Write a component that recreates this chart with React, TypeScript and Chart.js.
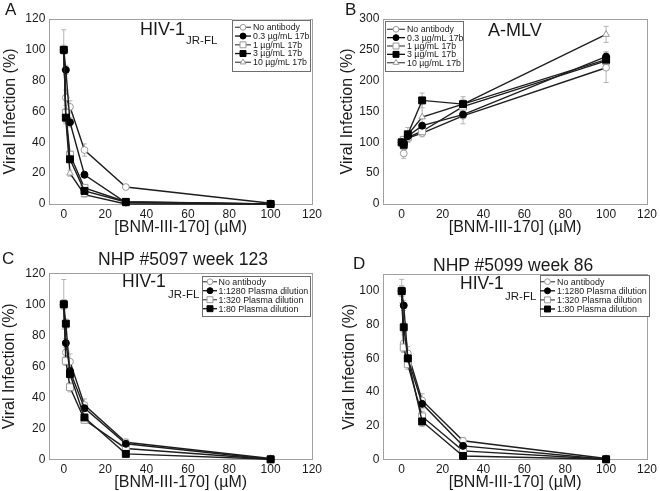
import React, { useEffect, useRef } from 'react';
import { Chart, registerables } from 'chart.js';

Chart.register(...registerables);

const FONT = "'Liberation Sans', Arial, Helvetica, sans-serif";
const TEXT = '#1a1a1a';
const LINE = '#1e1e1e';

// ---------- data ----------
const concentrations = [0, 1, 3, 10, 30, 100];
const xTickValues = [0, 20, 40, 60, 80, 100, 120];
const yTicksA = [0, 20, 40, 60, 80, 100, 120];
const yTicksB = [0, 50, 100, 150, 200, 250, 300];
const yTicksC = [0, 20, 40, 60, 80, 100, 120];
const yTicksD = [0, 20, 40, 60, 80, 100];

const labels17b = ['No antibody', '0.3 µg/mL 17b', '1 µg/mL 17b', '3 µg/mL 17b', '10 µg/mL 17b'];
const labelsPlasma = ['No antibody', '1:1280 Plasma dilution', '1:320 Plasma dilution', '1:80 Plasma dilution'];

// Panel A: HIV-1 JR-FL + 17b
const aNoAntibody = [100, 69, 63, 35, 11, 0.5];
const a03 = [100, 87, 53, 19, 1, 0];
const a1 = [100, 59, 32, 10.5, 1.5, 0];
const a3 = [100, 56, 29, 8.5, 1.3, 0];
const a10 = [100, 55, 20, 6, 0, 0];
const aNoAntibodyErr = [13, 5, 4, 4, 1.5, 0.5];
const a03Err = [3, 3, 3, 2, 0.5, 0];
const a1Err = [2, 3, 2, 1.5, 0.5, 0];
const a3Err = [2, 3, 2, 1.5, 0.5, 0];
const a10Err = [2, 3, 2, 1.5, 0.5, 0];

// Panel B: A-MLV + 17b
const bNoAntibody = [100, 82, 107, 115, 143, 221];
const b03 = [100, 97, 110, 127, 145, 239];
const b1 = [100, 104, 108, 118, 158, 232];
const b3 = [100, 96, 113, 168, 162, 234];
const b10 = [100, 92, 112, 141, 162, 275];
const bNoAntibodyErr = [6, 8, 6, 6, 13, 24];
const b03Err = [5, 5, 5, 5, 5, 8];
const b1Err = [5, 5, 5, 5, 5, 8];
const b3Err = [5, 5, 5, 12, 12, 6];
const b10Err = [5, 8, 12, 25, 8, 13];

// Panel C: NHP #5097 week 123
const cNoAntibody = [100, 69, 63, 35, 11, 0.5];
const c1280 = [100, 75, 57, 33, 10, 0];
const c320 = [100, 63.5, 46.5, 25.5, 7, 0];
const c80 = [100, 87.5, 55, 27, 3.5, 0];
const cNoAntibodyErr = [16, 6, 5, 4, 2, 0.5];
const c1280Err = [3, 3, 3, 2, 1, 0];
const c320Err = [3, 3, 3, 2, 1, 0];
const c80Err = [3, 3, 3, 2, 1, 0];

// Panel D: NHP #5099 week 86
const dNoAntibody = [100, 69, 63, 35, 11, 0.5];
const d1280 = [100, 91.5, 60, 33, 8, 0];
const d320 = [100, 66.5, 56.5, 25.5, 5, 0];
const d80 = [100, 78.5, 60, 22.5, 2, 0];
const dNoAntibodyErr = [7, 5, 4, 4, 2, 0.5];
const d1280Err = [3, 3, 3, 3, 1, 0];
const d320Err = [3, 3, 3, 3, 1, 0];
const d80Err = [3, 3, 3, 3, 1, 0];

// ---------- styles ----------
type Marker = { style: string; fill: string; stroke: string; r: number; lr: number };
const MARKERS: Marker[] = [
  { style: 'circle', fill: '#ffffff', stroke: '#9a9a9a', r: 3.4, lr: 2.9 },
  { style: 'circle', fill: '#000000', stroke: '#000000', r: 3.5, lr: 3.0 },
  { style: 'rect', fill: '#ffffff', stroke: '#9a9a9a', r: 4.9, lr: 4.2 },
  { style: 'rect', fill: '#000000', stroke: '#000000', r: 4.9, lr: 4.2 },
  { style: 'triangle', fill: '#ffffff', stroke: '#9a9a9a', r: 3.8, lr: 3.3 },
];
const ORDERS = [4, 1, 3, 0, 2];

type LegendSpec = {
  x: number; y: number; w: number; h: number;
  rowStart: number; rowStep: number; lineX0: number; lineX1: number; textX: number; fontSize: number;
};

type PanelSpec = {
  left: number; top: number; width: number; height: number;
  xMin: number; yMax: number; yTicks: number[];
  yAxisWidth: number; xAxisHeight: number; padTop: number; padRight: number;
  yTitlePad: number; xTitlePad: number;
  labels: string[]; series: number[][]; errors: number[][];
  legend: LegendSpec;
};

const PANELS: PanelSpec[] = [
  {
    left: 0, top: 0, width: 330, height: 245,
    xMin: -7, yMax: 120, yTicks: yTicksA,
    yAxisWidth: 49.3, xAxisHeight: 41, padTop: 19, padRight: 18,
    yTitlePad: 3, xTitlePad: 9,
    labels: labels17b,
    series: [aNoAntibody, a03, a1, a3, a10],
    errors: [aNoAntibodyErr, a03Err, a1Err, a3Err, a10Err],
    legend: { x: 232, y: 19.5, w: 78, h: 50.5, rowStart: 27.3, rowStep: 8.75, lineX0: 235, lineX1: 251, textX: 253, fontSize: 8.8 },
  },
  {
    left: 330, top: 0, width: 330, height: 245,
    xMin: -9, yMax: 300, yTicks: yTicksB,
    yAxisWidth: 53.3, xAxisHeight: 41, padTop: 19, padRight: 10,
    yTitlePad: 10, xTitlePad: 9,
    labels: labels17b,
    series: [bNoAntibody, b03, b1, b3, b10],
    errors: [bNoAntibodyErr, b03Err, b1Err, b3Err, b10Err],
    legend: { x: 55, y: 21, w: 78, h: 50, rowStart: 29.3, rowStep: 8.35, lineX0: 57, lineX1: 75, textX: 77, fontSize: 8.8 },
  },
  {
    left: 0, top: 245, width: 330, height: 246,
    xMin: -7, yMax: 120, yTicks: yTicksC,
    yAxisWidth: 49.3, xAxisHeight: 31.7, padTop: 28.3, padRight: 18,
    yTitlePad: 2, xTitlePad: 0.7,
    labels: labelsPlasma,
    series: [cNoAntibody, c1280, c320, c80],
    errors: [cNoAntibodyErr, c1280Err, c320Err, c80Err],
    legend: { x: 202, y: 31, w: 108, h: 40, rowStart: 36.7, rowStep: 9, lineX0: 203, lineX1: 217, textX: 218.5, fontSize: 8.9 },
  },
  {
    left: 330, top: 245, width: 330, height: 246,
    xMin: -9, yMax: 110, yTicks: yTicksD,
    yAxisWidth: 53.3, xAxisHeight: 31.7, padTop: 29.3, padRight: 9.3,
    yTitlePad: 11.3, xTitlePad: 0.7,
    labels: labelsPlasma,
    series: [dNoAntibody, d1280, d320, d80],
    errors: [dNoAntibodyErr, d1280Err, d320Err, d80Err],
    legend: { x: 209.5, y: 30, w: 108.5, h: 41, rowStart: 36.7, rowStep: 9.1, lineX0: 210, lineX1: 225, textX: 227, fontSize: 8.9 },
  },
];

type TextItem = { text: string; left: number; top: number; size: number };
const TEXTS: TextItem[] = [
  { text: 'A', left: 5, top: 0.6, size: 17 },
  { text: 'B', left: 345, top: 0.6, size: 17 },
  { text: 'C', left: 2, top: 249.5, size: 17 },
  { text: 'D', left: 353, top: 254.5, size: 17 },
  { text: 'HIV-1', left: 140, top: 19.7, size: 18 },
  { text: 'JR-FL', left: 186, top: 35.2, size: 11.5 },
  { text: 'A-MLV', left: 488, top: 20.7, size: 18 },
  { text: 'NHP #5097 week 123', left: 98, top: 251.4, size: 17.5 },
  { text: 'HIV-1', left: 122, top: 273.4, size: 17.5 },
  { text: 'JR-FL', left: 168, top: 289.2, size: 11.5 },
  { text: 'NHP #5099 week 86', left: 433, top: 256.8, size: 17.5 },
  { text: 'HIV-1', left: 460, top: 275, size: 17.5 },
  { text: 'JR-FL', left: 505, top: 291.2, size: 11.5 },
];

// ---------- drawing helpers ----------
function drawMarker(ctx: CanvasRenderingContext2D, m: Marker, x: number, y: number, r: number) {
  ctx.beginPath();
  if (m.style === 'circle') {
    ctx.arc(x, y, r, 0, Math.PI * 2);
  } else if (m.style === 'rect') {
    const s = r * Math.SQRT1_2;
    ctx.rect(x - s, y - s, 2 * s, 2 * s);
  } else {
    for (let k = 0; k < 3; k++) {
      const a = -Math.PI / 2 + (k * 2 * Math.PI) / 3;
      const px = x + Math.cos(a) * r;
      const py = y + Math.sin(a) * r;
      if (k === 0) ctx.moveTo(px, py);
      else ctx.lineTo(px, py);
    }
    ctx.closePath();
  }
  ctx.fillStyle = m.fill;
  ctx.fill();
  ctx.strokeStyle = m.stroke;
  ctx.lineWidth = 1;
  ctx.stroke();
}

function errorBarsPlugin(p: PanelSpec) {
  return {
    id: 'errorBars',
    beforeDatasetsDraw(chart: any) {
      const { ctx, scales } = chart;
      const xs = scales.x;
      const ys = scales.y;
      ctx.save();
      ctx.strokeStyle = '#b4b4b4';
      ctx.lineWidth = 1;
      p.errors.forEach((errs, i) => {
        errs.forEach((e, j) => {
          if (!e) return;
          const v = p.series[i][j];
          const px = xs.getPixelForValue(concentrations[j]);
          const yTop = ys.getPixelForValue(v + e);
          const yBot = ys.getPixelForValue(Math.max(0, v - e));
          ctx.beginPath();
          ctx.moveTo(px, yTop);
          ctx.lineTo(px, yBot);
          ctx.moveTo(px - 2.5, yTop);
          ctx.lineTo(px + 2.5, yTop);
          ctx.moveTo(px - 2.5, yBot);
          ctx.lineTo(px + 2.5, yBot);
          ctx.stroke();
        });
      });
      ctx.restore();
    },
  };
}

const framePlugin = {
  id: 'frame',
  beforeDatasetsDraw(chart: any) {
    const { ctx, chartArea } = chart;
    ctx.save();
    ctx.strokeStyle = '#a0a0a0';
    ctx.lineWidth = 1;
    ctx.strokeRect(
      Math.round(chartArea.left) + 0.5,
      Math.round(chartArea.top) + 0.5,
      Math.round(chartArea.right - chartArea.left),
      Math.round(chartArea.bottom - chartArea.top)
    );
    ctx.restore();
  },
};

function legendPlugin(p: PanelSpec) {
  const L = p.legend;
  return {
    id: 'boxLegend',
    afterDatasetsDraw(chart: any) {
      const { ctx } = chart;
      ctx.save();
      ctx.fillStyle = '#ffffff';
      ctx.fillRect(L.x, L.y, L.w, L.h);
      ctx.strokeStyle = '#6e6e6e';
      ctx.lineWidth = 1;
      ctx.strokeRect(Math.round(L.x) + 0.5, Math.round(L.y) + 0.5, Math.round(L.w), Math.round(L.h));
      p.labels.forEach((label, i) => {
        const y = L.rowStart + i * L.rowStep;
        ctx.strokeStyle = i === 0 || i === 2 || i === 4 ? '#555555' : '#111111';
        ctx.lineWidth = 1.3;
        ctx.beginPath();
        ctx.moveTo(L.lineX0, y);
        ctx.lineTo(L.lineX1, y);
        ctx.stroke();
        drawMarker(ctx, MARKERS[i], (L.lineX0 + L.lineX1) / 2, y, MARKERS[i].lr);
        ctx.fillStyle = TEXT;
        ctx.font = `${L.fontSize}px ${FONT}`;
        ctx.textBaseline = 'middle';
        ctx.textAlign = 'left';
        ctx.fillText(label, L.textX, y + 0.5);
      });
      ctx.restore();
    },
  };
}

function buildConfig(p: PanelSpec): any {
  const datasets = p.series.map((vals, i) => ({
    label: p.labels[i],
    data: concentrations.map((x, j) => ({ x, y: vals[j] })),
    borderColor: LINE,
    borderWidth: 1.4,
    tension: 0,
    fill: false,
    pointStyle: MARKERS[i].style,
    pointRadius: MARKERS[i].r,
    pointBackgroundColor: MARKERS[i].fill,
    pointBorderColor: MARKERS[i].stroke,
    pointBorderWidth: 1,
    clip: false,
    order: ORDERS[i],
  }));
  return {
    type: 'line',
    data: { datasets },
    options: {
      responsive: false,
      maintainAspectRatio: false,
      animation: false,
      devicePixelRatio: 1,
      events: [],
      layout: { padding: { left: 0, top: p.padTop, right: p.padRight, bottom: 0 } },
      plugins: { legend: { display: false }, tooltip: { enabled: false }, title: { display: false } },
      scales: {
        x: {
          type: 'linear',
          position: 'bottom',
          min: p.xMin,
          max: 120,
          grid: { display: false, drawTicks: false },
          border: { display: false },
          ticks: { font: { family: FONT, size: 12 }, color: TEXT, padding: 3, maxRotation: 0, autoSkip: false },
          afterBuildTicks: (s: any) => {
            s.ticks = xTickValues.map((v) => ({ value: v }));
          },
          afterFit: (s: any) => {
            s.height = p.xAxisHeight;
          },
          title: {
            display: true,
            text: '[BNM-III-170] (µM)',
            color: TEXT,
            font: { family: FONT, size: 16, lineHeight: 1 },
            padding: { top: 0, bottom: p.xTitlePad },
          },
        },
        y: {
          type: 'linear',
          position: 'left',
          min: 0,
          max: p.yMax,
          grid: { display: false, drawTicks: false },
          border: { display: false },
          ticks: { font: { family: FONT, size: 12 }, color: TEXT, padding: 4, autoSkip: false },
          afterBuildTicks: (s: any) => {
            s.ticks = p.yTicks.map((v) => ({ value: v }));
          },
          afterFit: (s: any) => {
            s.width = p.yAxisWidth;
          },
          title: {
            display: true,
            text: 'Viral Infection (%)',
            color: TEXT,
            font: { family: FONT, size: 16, lineHeight: 1 },
            padding: { top: p.yTitlePad, bottom: 0 },
          },
        },
      },
    },
    plugins: [framePlugin, errorBarsPlugin(p), legendPlugin(p)],
  };
}

export default function App() {
  const refs = useRef<(HTMLCanvasElement | null)[]>([]);

  useEffect(() => {
    const charts = PANELS.map((p, i) => {
      const canvas = refs.current[i];
      if (!canvas) return null;
      return new Chart(canvas, buildConfig(p));
    });
    return () => {
      charts.forEach((c) => c && c.destroy());
    };
  }, []);

  return (
    <div
      style={{
        position: 'fixed',
        left: 0,
        top: 0,
        width: 660,
        height: 491,
        background: '#ffffff',
        overflow: 'hidden',
      }}
    >
      {PANELS.map((p, i) => (
        <canvas
          key={i}
          ref={(el) => {
            refs.current[i] = el;
          }}
          width={p.width}
          height={p.height}
          style={{ position: 'absolute', left: p.left, top: p.top, width: p.width, height: p.height }}
        />
      ))}
      {TEXTS.map((t, i) => (
        <div
          key={'t' + i}
          style={{
            position: 'absolute',
            left: t.left,
            top: t.top,
            fontFamily: FONT,
            fontSize: t.size,
            lineHeight: `${t.size}px`,
            color: TEXT,
            whiteSpace: 'nowrap',
            pointerEvents: 'none',
          }}
        >
          {t.text}
        </div>
      ))}
    </div>
  );
}
